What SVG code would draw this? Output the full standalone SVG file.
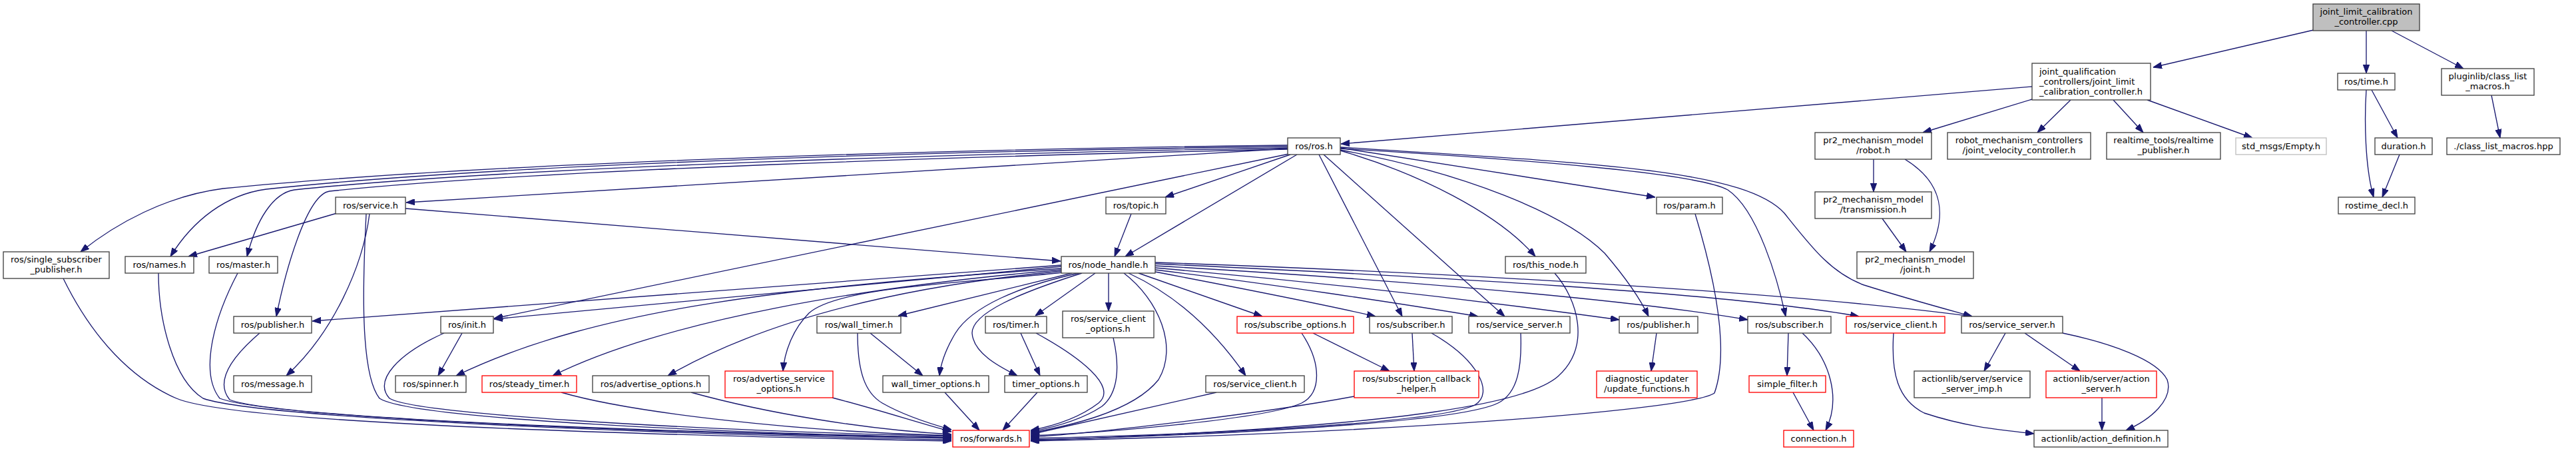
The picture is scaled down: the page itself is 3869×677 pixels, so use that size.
<svg xmlns="http://www.w3.org/2000/svg" width="3869" height="677" viewBox="0 0 3869 677">
<style>
rect{fill:#ffffff;stroke:#404040;stroke-width:1.33}
rect.root{fill:#bfbfbf}
rect.red{stroke:#ff0000}
rect.grey{stroke:#bfbfbf}
text{font-family:"DejaVu Sans",sans-serif;font-size:13px;fill:#000000;text-anchor:middle}
text.l{text-anchor:start}
#edges path{fill:none;stroke:#191970;stroke-width:1.33;marker-end:url(#arr)}
</style>
<defs>
<marker id="arr" markerUnits="userSpaceOnUse" viewBox="0 0 13 9.4" refX="13" refY="4.7" markerWidth="13" markerHeight="9.4" orient="auto"><path d="M0,0 L13,4.7 L0,9.4 z" fill="#191970" stroke="#191970" stroke-width="1"/></marker>
</defs>
<rect x="0" y="0" width="3869" height="677" style="fill:#ffffff;stroke:none"/>
<g id="edges">
<path d="M3475,45 L3234,101"/>
<path d="M3554,46 L3554,110"/>
<path d="M3592,46 L3700,103"/>
<path d="M3562,135 L3601,207"/>
<path d="M3554,135 C3551,180 3552,250 3565,296"/>
<path d="M3604,232 L3578,296"/>
<path d="M3742,143 L3755,207"/>
<path d="M3052,130 L2014,216"/>
<path d="M3052,149 L2888,199"/>
<path d="M3110,150 L3060,199"/>
<path d="M3174,150 L3219,199"/>
<path d="M3225,150 L3383,207"/>
<path d="M2814,239 L2814,288"/>
<path d="M2861,239 C2920,275 2924,325 2898,378"/>
<path d="M2827,328 L2863,378"/>
<path d="M1934,218 C1450,224 750,242 335,283 C250,294 175,335 121,378"/>
<path d="M1934,220 C1450,226 760,245 400,284 C340,292 290,330 256,385"/>
<path d="M1934,222 C1460,230 780,250 442,285 C410,290 385,330 371,385"/>
<path d="M1934,224 C1470,234 800,255 495,287 C460,292 428,410 415,475"/>
<path d="M1934,223 L610,304"/>
<path d="M1936,231 L742,478"/>
<path d="M1938,232 L1750,296"/>
<path d="M1948,232 L1690,385"/>
<path d="M1699,321 L1674,385"/>
<path d="M1981,232 L2106,475"/>
<path d="M1988,232 L2260,475"/>
<path d="M2013,226 C2130,260 2250,320 2306,385"/>
<path d="M2013,225 C2200,260 2350,320 2410,380 C2440,415 2462,445 2476,475"/>
<path d="M2013,222 L2486,296"/>
<path d="M2013,223 C2300,240 2550,260 2595,285 C2640,315 2670,420 2682,475"/>
<path d="M2013,221 C2400,245 2620,255 2680,320 C2720,370 2750,410 2800,428 C2870,450 2930,466 2962,475"/>
<path d="M506,320 L283,385"/>
<path d="M609,313 L1593,392"/>
<path d="M555,321 C545,400 500,500 430,564"/>
<path d="M550,321 C545,420 540,560 570,598 C620,630 1100,650 1429,657"/>
<path d="M95,418 C140,510 200,570 265,598 C340,630 800,650 1429,662"/>
<path d="M238,410 C238,480 260,570 305,598 C380,625 900,650 1429,660"/>
<path d="M357,410 C320,480 300,560 330,598 C400,625 900,648 1429,658"/>
<path d="M390,500 C355,530 320,570 345,600 C410,625 900,647 1429,657"/>
<path d="M667,500 C600,530 560,570 585,598 C620,620 1000,645 1429,655"/>
<path d="M694,500 L658,564"/>
<path d="M843,589 C950,620 1200,648 1429,654"/>
<path d="M1038,589 C1150,620 1300,645 1429,652"/>
<path d="M1250,597 C1320,615 1380,635 1429,648"/>
<path d="M1288,500 C1288,560 1300,590 1325,605 C1360,625 1400,637 1429,645"/>
<path d="M1307,500 L1386,564"/>
<path d="M1419,589 L1471,646"/>
<path d="M1558,589 L1506,646"/>
<path d="M1533,500 L1562,564"/>
<path d="M1556,500 C1620,535 1680,580 1650,605 C1620,628 1580,640 1548,646"/>
<path d="M1672,507 C1682,550 1680,590 1655,610 C1625,630 1580,642 1548,648"/>
<path d="M1688,410 C1740,450 1770,520 1740,570 C1700,620 1600,640 1548,650"/>
<path d="M1827,589 L1548,652"/>
<path d="M1955,500 C1985,545 1985,590 1955,605 C1900,630 1650,650 1548,654"/>
<path d="M2034,595 C1900,620 1650,650 1548,656"/>
<path d="M2150,500 C2220,540 2245,590 2215,608 C2150,640 1700,655 1548,658"/>
<path d="M2284,500 C2286,550 2280,590 2250,605 C2180,640 1700,657 1548,660"/>
<path d="M2335,410 C2370,450 2390,520 2340,565 C2300,600 2150,640 1548,661"/>
<path d="M2546,321 C2570,400 2600,520 2575,590 C2540,615 2100,650 1548,662"/>
<path d="M1594,398 L469,482"/>
<path d="M1594,400 L742,479"/>
<path d="M1594,403 C1200,430 900,460 685,564"/>
<path d="M1594,405 C1300,430 1000,480 830,564"/>
<path d="M1594,407 C1350,430 1150,480 1003,564"/>
<path d="M1596,409 C1450,425 1260,430 1215,470 C1190,495 1178,530 1176,557"/>
<path d="M1610,410 L1349,474"/>
<path d="M1620,410 C1530,430 1460,460 1435,500 C1420,525 1413,545 1411,564"/>
<path d="M1625,410 C1530,440 1460,470 1460,500 C1462,530 1500,550 1528,564"/>
<path d="M1645,410 L1555,474"/>
<path d="M1665,410 L1665,467"/>
<path d="M1695,410 C1760,440 1820,490 1871,564"/>
<path d="M1710,410 L1896,475"/>
<path d="M1735,408 C1850,430 1980,455 2066,475"/>
<path d="M1735,405 C1900,425 2100,455 2220,475"/>
<path d="M1735,402 C2000,425 2250,455 2432,480"/>
<path d="M1735,399 C2100,420 2450,450 2625,480"/>
<path d="M1735,396 C2150,415 2600,440 2792,475"/>
<path d="M1735,394 C2200,410 2700,440 2962,475"/>
<path d="M1972,500 L2087,557"/>
<path d="M2121,500 L2124,557"/>
<path d="M2488,500 L2480,557"/>
<path d="M2686,500 L2684,564"/>
<path d="M2707,500 C2750,540 2765,600 2742,646"/>
<path d="M2693,589 L2724,646"/>
<path d="M2844,500 C2840,560 2850,600 2890,620 C2950,640 3000,645 3055,651"/>
<path d="M3012,500 L2980,557"/>
<path d="M3041,500 L3124,557"/>
<path d="M3098,500 C3170,515 3240,540 3255,570 C3265,600 3230,630 3193,646"/>
<path d="M3157,597 L3157,646"/>
</g>
<g id="n_cpp"><rect class="root" x="3474" y="6" width="160" height="40"/><text x="3554" y="22">joint_limit_calibration</text><text x="3554" y="37">_controller.cpp</text></g>
<g id="n_jqc"><rect x="3052" y="95" width="178" height="55"/><text class="l" x="3063" y="111.5">joint_qualification</text><text class="l" x="3063" y="126.5">_controllers/joint_limit</text><text class="l" x="3063" y="141.5">_calibration_controller.h</text></g>
<g id="n_time"><rect x="3511" y="110" width="86" height="25"/><text x="3554" y="127">ros/time.h</text></g>
<g id="n_plugin"><rect x="3667" y="103" width="139" height="40"/><text x="3736.5" y="119">pluginlib/class_list</text><text x="3736.5" y="134">_macros.h</text></g>
<g id="n_ros"><rect x="1934" y="207" width="79" height="25"/><text x="1973.5" y="224">ros/ros.h</text></g>
<g id="n_robot"><rect x="2726" y="199" width="175" height="40"/><text x="2813.5" y="215">pr2_mechanism_model</text><text x="2813.5" y="230">/robot.h</text></g>
<g id="n_jvc"><rect x="2925" y="199" width="215" height="40"/><text x="3032.5" y="215">robot_mechanism_controllers</text><text x="3032.5" y="230">/joint_velocity_controller.h</text></g>
<g id="n_rt"><rect x="3164" y="199" width="171" height="40"/><text x="3249.5" y="215">realtime_tools/realtime</text><text x="3249.5" y="230">_publisher.h</text></g>
<g id="n_empty"><rect class="grey" x="3358" y="207" width="136" height="25"/><text x="3426" y="224">std_msgs/Empty.h</text></g>
<g id="n_duration"><rect x="3567" y="207" width="86" height="25"/><text x="3610" y="224">duration.h</text></g>
<g id="n_hpp"><rect x="3675" y="207" width="170" height="25"/><text x="3760" y="224">./class_list_macros.hpp</text></g>
<g id="n_service"><rect x="504" y="296" width="105" height="25"/><text x="556.5" y="313">ros/service.h</text></g>
<g id="n_topic"><rect x="1661" y="296" width="90" height="25"/><text x="1706" y="313">ros/topic.h</text></g>
<g id="n_param"><rect x="2488" y="296" width="99" height="25"/><text x="2537.5" y="313">ros/param.h</text></g>
<g id="n_trans"><rect x="2726" y="288" width="175" height="40"/><text x="2813.5" y="304">pr2_mechanism_model</text><text x="2813.5" y="319">/transmission.h</text></g>
<g id="n_decl"><rect x="3512" y="296" width="115" height="25"/><text x="3569.5" y="313">rostime_decl.h</text></g>
<g id="n_ssp"><rect x="5" y="378" width="159" height="40"/><text x="84.5" y="394">ros/single_subscriber</text><text x="84.5" y="409">_publisher.h</text></g>
<g id="n_names"><rect x="188" y="385" width="103" height="25"/><text x="239.5" y="402">ros/names.h</text></g>
<g id="n_master"><rect x="314" y="385" width="103" height="25"/><text x="365.5" y="402">ros/master.h</text></g>
<g id="n_nh"><rect x="1594" y="385" width="141" height="25"/><text x="1664.5" y="402">ros/node_handle.h</text></g>
<g id="n_thisnode"><rect x="2261" y="385" width="121" height="25"/><text x="2321.5" y="402">ros/this_node.h</text></g>
<g id="n_joint"><rect x="2789" y="378" width="175" height="40"/><text x="2876.5" y="394">pr2_mechanism_model</text><text x="2876.5" y="409">/joint.h</text></g>
<g id="n_pubL"><rect x="351" y="475" width="117" height="25"/><text x="409.5" y="492">ros/publisher.h</text></g>
<g id="n_init"><rect x="662" y="475" width="79" height="25"/><text x="701.5" y="492">ros/init.h</text></g>
<g id="n_walltimer"><rect x="1227" y="475" width="126" height="25"/><text x="1290" y="492">ros/wall_timer.h</text></g>
<g id="n_timer"><rect x="1480" y="475" width="92" height="25"/><text x="1526" y="492">ros/timer.h</text></g>
<g id="n_sco"><rect x="1596" y="467" width="137" height="40"/><text x="1664.5" y="483">ros/service_client</text><text x="1664.5" y="498">_options.h</text></g>
<g id="n_subopt"><rect class="red" x="1858" y="475" width="175" height="25"/><text x="1945.5" y="492">ros/subscribe_options.h</text></g>
<g id="n_subL"><rect x="2057" y="475" width="124" height="25"/><text x="2119" y="492">ros/subscriber.h</text></g>
<g id="n_ssL"><rect x="2206" y="475" width="152" height="25"/><text x="2282" y="492">ros/service_server.h</text></g>
<g id="n_pubR"><rect x="2432" y="475" width="118" height="25"/><text x="2491" y="492">ros/publisher.h</text></g>
<g id="n_subR"><rect x="2625" y="475" width="125" height="25"/><text x="2687.5" y="492">ros/subscriber.h</text></g>
<g id="n_scR"><rect class="red" x="2773" y="475" width="148" height="25"/><text x="2847" y="492">ros/service_client.h</text></g>
<g id="n_ssR"><rect x="2946" y="475" width="152" height="25"/><text x="3022" y="492">ros/service_server.h</text></g>
<g id="n_message"><rect x="351" y="564" width="117" height="25"/><text x="409.5" y="581">ros/message.h</text></g>
<g id="n_spinner"><rect x="594" y="564" width="106" height="25"/><text x="647" y="581">ros/spinner.h</text></g>
<g id="n_steady"><rect class="red" x="724" y="564" width="142" height="25"/><text x="795" y="581">ros/steady_timer.h</text></g>
<g id="n_advopt"><rect x="890" y="564" width="175" height="25"/><text x="977.5" y="581">ros/advertise_options.h</text></g>
<g id="n_advsvc"><rect class="red" x="1089" y="557" width="162" height="40"/><text x="1170" y="573">ros/advertise_service</text><text x="1170" y="588">_options.h</text></g>
<g id="n_wto"><rect x="1326" y="564" width="159" height="25"/><text x="1405.5" y="581">wall_timer_options.h</text></g>
<g id="n_to"><rect x="1509" y="564" width="124" height="25"/><text x="1571" y="581">timer_options.h</text></g>
<g id="n_scL"><rect x="1811" y="564" width="148" height="25"/><text x="1885" y="581">ros/service_client.h</text></g>
<g id="n_sch"><rect class="red" x="2034" y="557" width="187" height="40"/><text x="2127.5" y="573">ros/subscription_callback</text><text x="2127.5" y="588">_helper.h</text></g>
<g id="n_upd"><rect class="red" x="2398" y="557" width="151" height="40"/><text x="2473.5" y="573">diagnostic_updater</text><text x="2473.5" y="588">/update_functions.h</text></g>
<g id="n_sf"><rect class="red" x="2627" y="564" width="115" height="25"/><text x="2684.5" y="581">simple_filter.h</text></g>
<g id="n_imp"><rect x="2875" y="557" width="174" height="40"/><text x="2962" y="573">actionlib/server/service</text><text x="2962" y="588">_server_imp.h</text></g>
<g id="n_as"><rect class="red" x="3073" y="557" width="166" height="40"/><text x="3156" y="573">actionlib/server/action</text><text x="3156" y="588">_server.h</text></g>
<g id="n_fwd"><rect class="red" x="1431" y="646" width="115" height="25"/><text x="1488.5" y="663">ros/forwards.h</text></g>
<g id="n_conn"><rect class="red" x="2679" y="646" width="105" height="25"/><text x="2731.5" y="663">connection.h</text></g>
<g id="n_adef"><rect x="3055" y="646" width="201" height="25"/><text x="3155.5" y="663">actionlib/action_definition.h</text></g>
</svg>
